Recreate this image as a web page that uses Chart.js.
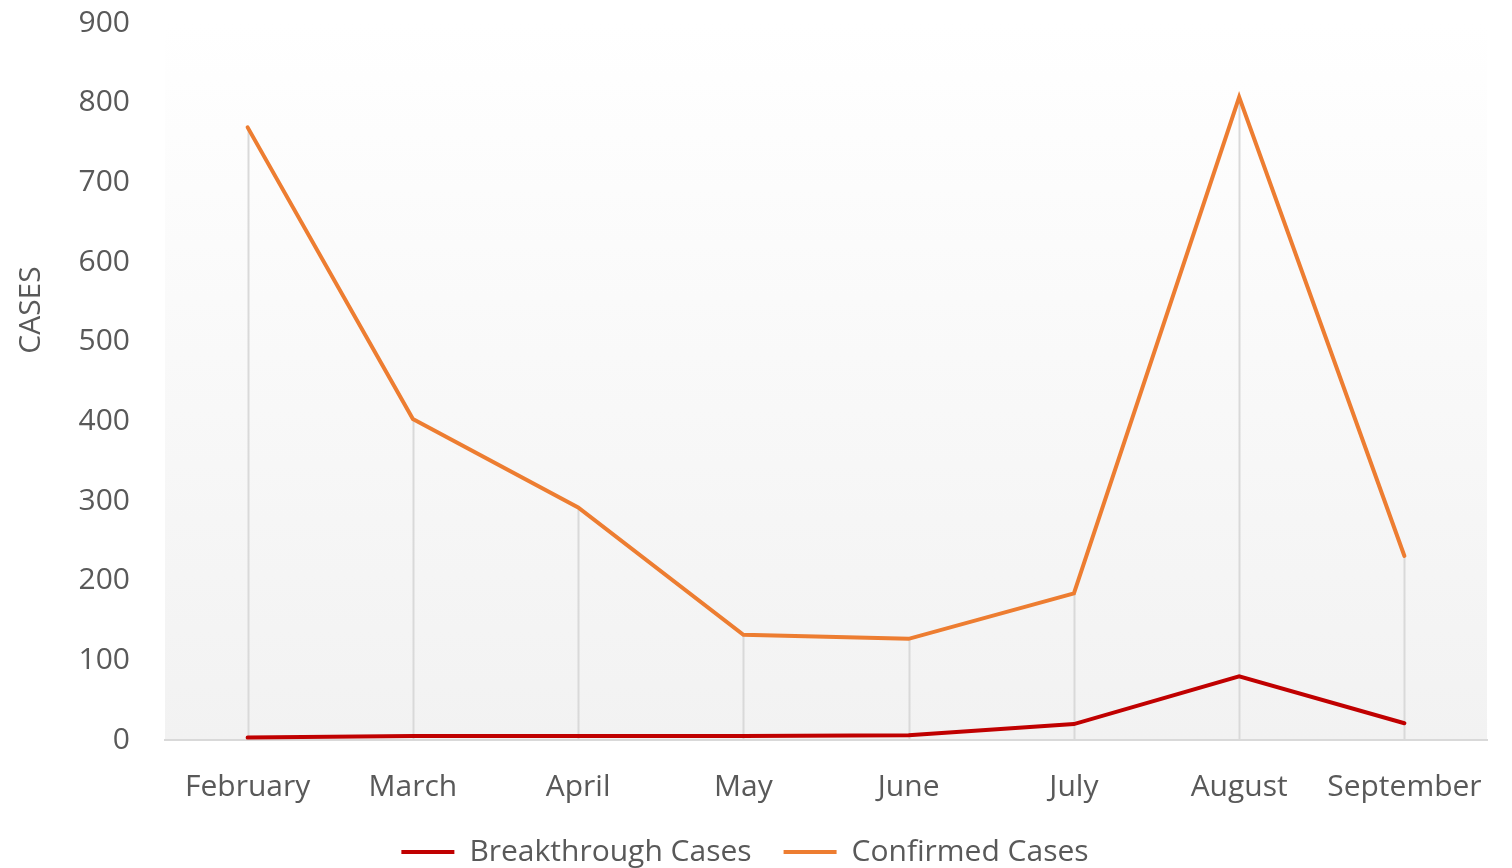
<!DOCTYPE html>
<html>
<head>
<meta charset="utf-8">
<title>Cases</title>
<script src="https://cdn.jsdelivr.net/npm/chart.js@4.4.1/dist/chart.umd.min.js"></script>
<style>
  html, body { margin: 0; padding: 0; background: #fff; overflow: hidden; }
  #wrap { width: 1512px; height: 877px; position: relative; }
</style>
</head>
<body>
<div id="wrap"><canvas id="chart"></canvas></div>
<script>
// ---- data ----
const months = ['February', 'March', 'April', 'May', 'June', 'July', 'August', 'September'];
const breakthrough = [3, 5, 5, 5, 6, 20, 80, 21];
const confirmed = [769, 403, 292, 132, 127, 184, 807, 231];
const yTicks = [0, 100, 200, 300, 400, 500, 600, 700, 800, 900];

const TXT = '#595959';
const FONT = "'Open Sans', 'Noto Sans', sans-serif";

// plot area fill: white at top fading to light grey
const plotBg = {
  id: 'plotBg',
  beforeDraw(chart) {
    const { ctx, chartArea: a } = chart;
    const g = ctx.createLinearGradient(0, a.top, 0, a.bottom);
    g.addColorStop(0, '#ffffff');
    g.addColorStop(1, '#f2f2f2');
    ctx.save();
    ctx.fillStyle = g;
    ctx.fillRect(a.left, a.top, a.right - a.left, a.bottom - a.top);
    ctx.restore();
  }
};

// drop lines from the highest point of each category to the axis
const dropLines = {
  id: 'dropLines',
  beforeDatasetsDraw(chart) {
    const { ctx, scales: { x, y } } = chart;
    ctx.save();
    ctx.strokeStyle = '#d9d9d9';
    ctx.lineWidth = 2;
    months.forEach((m, i) => {
      const top = Math.max(...chart.data.datasets.map(d => d.data[i]));
      const px = Math.round(x.getPixelForValue(i)) + 0.5;
      ctx.beginPath();
      ctx.moveTo(px, y.getPixelForValue(top));
      ctx.lineTo(px, y.getPixelForValue(0));
      ctx.stroke();
    });
    ctx.restore();
  }
};

// y title sits a bit above the middle in the original
const yTitle = {
  id: 'yTitle',
  afterDraw(chart) {
    const { ctx } = chart;
    ctx.save();
    ctx.translate(31, 310);
    ctx.rotate(-Math.PI / 2);
    ctx.fillStyle = TXT;
    ctx.font = '30px ' + FONT;
    ctx.textAlign = 'center';
    ctx.textBaseline = 'middle';
    ctx.fillText('CASES', 0, 0);
    ctx.restore();
  }
};

new Chart(document.getElementById('chart'), {
  type: 'line',
  data: {
    labels: months,
    datasets: [
      { label: 'Breakthrough Cases', data: breakthrough, borderColor: '#c00000', backgroundColor: '#c00000', borderWidth: 4, pointRadius: 0, tension: 0, borderCapStyle: 'round' },
      { label: 'Confirmed Cases', data: confirmed, borderColor: '#ed7d31', backgroundColor: '#ed7d31', borderWidth: 4, pointRadius: 0, tension: 0, borderCapStyle: 'round' }
    ]
  },
  options: {
    responsive: true,
    maintainAspectRatio: false,
    animation: false,
    layout: { padding: { top: 23, right: 22, left: 0, bottom: 0 } },
    plugins: {
      legend: {
        position: 'bottom',
        labels: {
          color: TXT,
          font: { family: FONT, size: 30 },
          boxWidth: 53,
          boxHeight: 4,
          padding: 32,
          generateLabels(chart) {
            return chart.data.datasets.map((d, i) => ({
              text: d.label, fillStyle: d.borderColor, strokeStyle: d.borderColor,
              lineWidth: 0, fontColor: TXT, datasetIndex: i, hidden: false
            }));
          }
        }
      },
      tooltip: { enabled: false }
    },
    scales: {
      x: {
        offset: true,
        afterFit(s) { s.height = 65; },
        grid: { display: false, drawTicks: false },
        border: { display: true, color: '#d9d9d9', width: 2 },
        ticks: { color: TXT, font: { family: FONT, size: 30 }, padding: 29, maxRotation: 0, autoSkip: false }
      },
      y: {
        min: 0,
        max: 900,
        afterBuildTicks(s) { s.ticks = yTicks.map(v => ({ value: v })); },
        afterFit(s) { s.width = 165; },
        grid: { display: true, drawOnChartArea: false, drawTicks: true, tickLength: 35, tickColor: 'rgba(0,0,0,0)' },
        border: { display: false },
        ticks: { color: TXT, font: { family: FONT, size: 30 }, padding: 0 }
      }
    }
  },
  plugins: [plotBg, dropLines, yTitle]
});
</script>
</body>
</html>
